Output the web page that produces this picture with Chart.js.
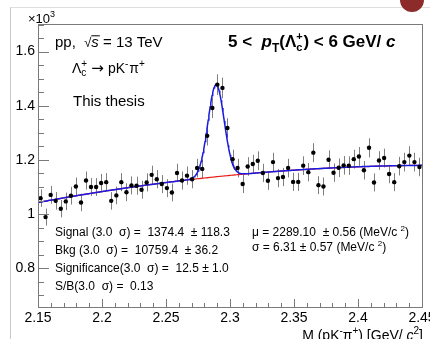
<!DOCTYPE html>
<html lang="en">
<head>
<meta charset="UTF-8">
<title>Lambda_c mass fit</title>
<script src="https://cdn.jsdelivr.net/npm/chart.js"></script>
<style>
  html, body { margin: 0; padding: 0; background: #fff; overflow: hidden; }
  #page {
    position: absolute; left: 10px; top: 7px; width: 430px; height: 340px;
    border-left: 1px solid #c9c9c9; border-top: 1px solid #dedede;
  }
  #blob {
    position: absolute; left: 400px; top: -12px; width: 24px; height: 24px;
    border-radius: 50%; background: #8d2a2a;
  }
  #wrap { position: absolute; left: 0; top: 0; width: 430px; height: 339px; }
</style>
</head>
<body>
<div id="page"></div>
<div id="blob"></div>
<div id="wrap"><canvas id="massChart" width="430" height="339"></canvas></div>

<script>
  // bin centres of M(pK-pi+) in GeV/c^2
  const massBins = [
    2.1520, 2.1559, 2.1599, 2.1638, 2.1678, 2.1717, 2.1757, 2.1796, 2.1836, 2.1875,
    2.1914, 2.1954, 2.1993, 2.2033, 2.2072, 2.2112, 2.2151, 2.2191, 2.2230, 2.2270,
    2.2309, 2.2349, 2.2388, 2.2428, 2.2467, 2.2507, 2.2546, 2.2586, 2.2625, 2.2664,
    2.2704, 2.2743, 2.2783, 2.2822, 2.2862, 2.2901, 2.2941, 2.2980, 2.3020, 2.3059,
    2.3099, 2.3138, 2.3178, 2.3217, 2.3257, 2.3296, 2.3336, 2.3375, 2.3414, 2.3454,
    2.3493, 2.3533, 2.3572, 2.3612, 2.3651, 2.3691, 2.3730, 2.3770, 2.3809, 2.3849,
    2.3888, 2.3928, 2.3967, 2.4007, 2.4046, 2.4086, 2.4125, 2.4164, 2.4204, 2.4243,
    2.4283, 2.4322, 2.4362, 2.4401, 2.4441, 2.4480
  ];

  // entries per bin
  const counts = [
    1059, 989, 1071, 1049, 1020, 1047, 1068, 1102, 1043, 1124,
    1100, 1100, 1115, 1118, 1049, 1069, 1118, 1081, 1106, 1105,
    1090, 1117, 1145, 1129, 1111, 1096, 1080, 1152, 1124, 1142,
    1129, 1170, 1167, 1289, 1392, 1478, 1466, 1318, 1203, 1170,
    1111, 1176, 1185, 1197, 1152, 1123, 1192, 1133, 1137, 1170,
    1119, 1119, 1179, 1155, 1227, 1107, 1102, 1201, 1153, 1171,
    1180, 1179, 1203, 1213, 1162, 1245, 1117, 1198, 1207, 1148,
    1118, 1177, 1192, 1216, 1192, 1174
  ];

  // fit result: pol2 background (in m - 2.15) + gaussian
  const bkgPars = [1043, 877, -1400];
  const gausAmp = 340;
  const gausMean = 2.28910;
  const gausSigma = 0.00631;

  const xTicks = [2.15, 2.2, 2.25, 2.3, 2.35, 2.4, 2.45];
  const yTicks = [800, 1000, 1200, 1400, 1600];

  const FONT = '"Liberation Sans", Arial, sans-serif';

  function bkg(m) {
    const t = m - 2.15;
    return bkgPars[0] + bkgPars[1] * t + bkgPars[2] * t * t;
  }
  function total(m) {
    const z = (m - gausMean) / gausSigma;
    return bkg(m) + gausAmp * Math.exp(-0.5 * z * z);
  }

  const fitX = [];
  for (let m = 2.15; m <= 2.4501; m += 0.0005) fitX.push(m);
  const bkgCurve = fitX.map(m => ({ x: m, y: bkg(m) }));
  const totCurve = fitX.map(m => ({ x: m, y: total(m) }));
  const points = massBins.map((m, i) => ({ x: m, y: counts[i] }));

  // draws a piece of text made of several runs (sub/superscripts, italics)
  function drawRich(ctx, x, y, parts) {
    let cx = x;
    for (const p of parts) {
      ctx.font = (p.s || '') + ' ' + p.f + 'px ' + (p.ff || FONT);
      ctx.fillText(p.t, cx, y + (p.dy || 0));
      if (p.over) {
        const w0 = ctx.measureText(p.t).width;
        ctx.fillRect(cx, y - p.f * 0.78, w0 + 1, 1);
      }
      if (!p.keep) cx += ctx.measureText(p.t).width + (p.gap || 0);
    }
    return cx;
  }
  function richWidth(ctx, parts) {
    let w = 0;
    for (const p of parts) {
      ctx.font = (p.s || '') + ' ' + p.f + 'px ' + (p.ff || FONT);
      if (!p.keep) w += ctx.measureText(p.t).width + (p.gap || 0);
    }
    return w;
  }

  const errorBars = {
    id: 'errorBars',
    beforeDatasetsDraw(chart) {
      const { ctx, scales: { x, y } } = chart;
      ctx.save();
      ctx.strokeStyle = 'rgba(0,0,0,0.5)';
      ctx.lineWidth = 1;
      massBins.forEach((m, i) => {
        const e = Math.sqrt(counts[i]);
        const px = Math.round(x.getPixelForValue(m)) + 0.5;
        ctx.beginPath();
        ctx.moveTo(px, y.getPixelForValue(counts[i] - e));
        ctx.lineTo(px, y.getPixelForValue(counts[i] + e));
        ctx.stroke();
      });
      ctx.restore();
    }
  };

  const rootFrame = {
    id: 'rootFrame',
    afterDraw(chart) {
      const { ctx, chartArea: a, scales: { x, y } } = chart;
      ctx.save();
      ctx.strokeStyle = '#7a7a7a';
      ctx.lineWidth = 1;
      ctx.strokeRect(a.left + 0.5, a.top + 0.5, a.right - a.left, a.bottom - a.top);

      // x ticks (pointing inwards)
      ctx.beginPath();
      for (let k = 0; k <= 30; k++) {
        const v = 2.15 + k * 0.01;
        const px = Math.round(x.getPixelForValue(v)) + 0.5;
        const len = (k % 5 === 0) ? 8 : 4;
        ctx.moveTo(px, a.bottom);
        ctx.lineTo(px, a.bottom - len);
      }
      // y ticks
      for (let v = 700; v <= 1700; v += 50) {
        const py = Math.round(y.getPixelForValue(v)) + 0.5;
        const len = (v % 200 === 0) ? 11 : 6;
        ctx.moveTo(a.left, py);
        ctx.lineTo(a.left + len, py);
      }
      ctx.stroke();

      ctx.fillStyle = '#000';
      ctx.textBaseline = 'alphabetic';

      // x10^3
      drawRich(ctx, 28, 23, [
        { t: '\u00d710', f: 13 },
        { t: '3', f: 9, dy: -6 }
      ]);

      drawRich(ctx, 55, 47, [
        { t: 'pp,  ', f: 15 },
        { t: '\u221a', f: 13 },
        { t: 's', f: 15, s: 'italic', over: true },
        { t: ' = 13 TeV', f: 15 }
      ]);

      drawRich(ctx, 72, 73, [
        { t: '\u039b', f: 14 },
        { t: '+', f: 10, dy: -6, keep: true },
        { t: 'c', f: 10, dy: 3, gap: 5 },
        { t: '\u2192', f: 15, ff: '"DejaVu Sans", sans-serif', gap: 4 },
        { t: 'pK', f: 14 },
        { t: '-', f: 10, dy: -6, gap: 1 },
        { t: '\u03c0', f: 14 },
        { t: '+', f: 10, dy: -6 }
      ]);

      ctx.font = '15px ' + FONT;
      ctx.fillText('This thesis', 73, 106);

      drawRich(ctx, 228, 47, [
        { t: '5 <  ', f: 17, s: 'bold' },
        { t: 'p', f: 17, s: 'italic bold' },
        { t: 'T', f: 12, s: 'bold', dy: 5 },
        { t: '(\u039b', f: 17, s: 'bold' },
        { t: '+', f: 11, s: 'bold', dy: -7, keep: true },
        { t: 'c', f: 11, s: 'bold', dy: 4, gap: 1 },
        { t: ') < 6 GeV/ ', f: 17, s: 'bold' },
        { t: 'c', f: 17, s: 'italic bold' }
      ]);

      const stats = [
        'Signal (3.0  \u03c3) =  1374.4  \u00b1 118.3',
        'Bkg (3.0  \u03c3) =  10759.4  \u00b1 36.2',
        'Significance(3.0  \u03c3) =  12.5 \u00b1 1.0',
        'S/B(3.0  \u03c3) =  0.13'
      ];
      ctx.font = '12px ' + FONT;
      stats.forEach((s, i) => ctx.fillText(s, 55, 235.5 + i * 18));

      drawRich(ctx, 252, 235.5, [
        { t: '\u03bc = 2289.10  \u00b1 0.56 (MeV/c ', f: 12 },
        { t: '2', f: 8, dy: -5 },
        { t: ')', f: 12 }
      ]);
      drawRich(ctx, 252, 251, [
        { t: '\u03c3 = 6.31 \u00b1 0.57 (MeV/c ', f: 12 },
        { t: '2', f: 8, dy: -5 },
        { t: ')', f: 12 }
      ]);

      // axis title, right aligned to the frame
      const title = [
        { t: 'M (pK', f: 14 },
        { t: '-', f: 10, dy: -6 },
        { t: '\u03c0', f: 14 },
        { t: '+', f: 10, dy: -6 },
        { t: ') [GeV/ ', f: 14 },
        { t: 'c', f: 14, s: 'italic' },
        { t: '2', f: 10, dy: -6 },
        { t: ']', f: 14 }
      ];
      drawRich(ctx, 423 - richWidth(ctx, title), 340, title);
      ctx.restore();
    }
  };

  const ctx = document.getElementById('massChart').getContext('2d');
  new Chart(ctx, {
    data: {
      datasets: [
        {
          type: 'scatter',
          data: points,
          backgroundColor: '#000',
          borderColor: '#000',
          pointRadius: 2.2,
          pointBorderWidth: 0
        },
        {
          type: 'line',
          data: totCurve,
          borderColor: '#1a1ae0',
          borderWidth: 1.5,
          pointRadius: 0,
          tension: 0,
          fill: false
        },
        {
          type: 'line',
          data: bkgCurve,
          borderColor: '#e8201a',
          borderWidth: 1.2,
          pointRadius: 0,
          tension: 0,
          fill: false
        }
      ]
    },
    options: {
      responsive: false,
      animation: false,
      devicePixelRatio: 1,
      layout: { padding: { left: 0, top: 24, right: 8, bottom: 0 } },
      plugins: { legend: { display: false }, tooltip: { enabled: false } },
      scales: {
        x: {
          type: 'linear',
          min: 2.15,
          max: 2.45,
          grid: { display: false, drawTicks: false },
          border: { display: false },
          afterBuildTicks: s => { s.ticks = xTicks.map(v => ({ value: v })); },
          afterFit: s => { s.height = 32; s.paddingLeft = 0; s.paddingRight = 0; },
          ticks: {
            autoSkip: false,
            maxRotation: 0,
            padding: 3,
            color: '#000',
            font: { family: FONT, size: 14 },
            callback: v => String(parseFloat(Number(v).toFixed(2)))
          }
        },
        y: {
          type: 'linear',
          min: 657,
          max: 1702,
          grid: { display: false, drawTicks: false },
          border: { display: false },
          afterBuildTicks: s => { s.ticks = yTicks.map(v => ({ value: v })); },
          afterFit: s => { s.width = 38; s.paddingTop = 0; s.paddingBottom = 0; },
          ticks: {
            padding: 3,
            color: '#000',
            font: { family: FONT, size: 14 },
            callback: v => String(v / 1000)
          }
        }
      }
    },
    plugins: [errorBars, rootFrame]
  });
</script>
</body>
</html>
